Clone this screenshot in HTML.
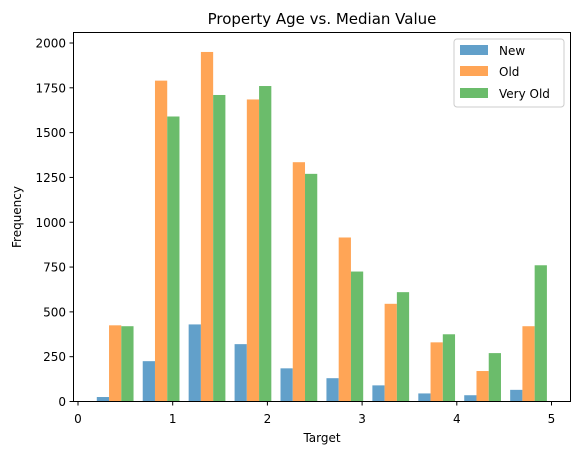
<!DOCTYPE html>
<html><head><meta charset="utf-8"><style>
body{margin:0;background:#fff;}
svg{display:block;font-family:"DejaVu Sans","Liberation Sans",sans-serif;}
</style></head><body>
<svg id="chart" width="580" height="455">
<rect x="0" y="0" width="580" height="455" fill="#fff"/>
<text x="322" y="24" font-size="15" text-anchor="middle" fill="#000">Property Age vs. Median Value</text>
<g id="bars"></g>
<g id="axes"></g>
<rect x="73.5" y="32.5" width="497" height="369" fill="none" stroke="#000" stroke-width="1"/>
<text x="322" y="442" font-size="12" text-anchor="middle">Target</text>
<text x="21" y="217" font-size="12" text-anchor="middle" transform="rotate(-90 21 217)">Frequency</text>
<g>
<rect x="454" y="39" width="110" height="68" rx="3" fill="#fff" fill-opacity="0.8" stroke="#ccc"/>
<rect x="460" y="45" width="28" height="10" fill="#62a0ca"/>
<text x="499" y="55" font-size="12">New</text>
<rect x="460" y="66" width="28" height="10" fill="#ffa556"/>
<text x="499" y="76" font-size="12">Old</text>
<rect x="460" y="88" width="28" height="10" fill="#6bbc6b"/>
<text x="499" y="98" font-size="12">Very Old</text>
</g>
</svg>
<script>
const binStart = 0.15;
const binWidth = 0.485;
const seriesNew = [25, 225, 430, 320, 185, 130, 90, 45, 35, 65];
const seriesOld = [425, 1790, 1950, 1685, 1335, 915, 545, 330, 170, 420];
const seriesVeryOld = [420, 1590, 1710, 1760, 1270, 725, 610, 375, 270, 760];
const xTicks = [0, 1, 2, 3, 4, 5];
const yTicks = [0, 250, 500, 750, 1000, 1250, 1500, 1750, 2000];

const NS = "http://www.w3.org/2000/svg";
function xs(v){return 78 + v*94.7;}
function ys(v){return 401.5 - v*(358.5/2000);}
const bars = document.getElementById('bars');
const axes = document.getElementById('axes');
const series = [[seriesNew,'#62a0ca','new'],[seriesOld,'#ffa556','old'],[seriesVeryOld,'#6bbc6b','very-old']];
const bw = binWidth*0.8/3;
series.forEach((s, si) => {
  s[0].forEach((val, i) => {
    const x0 = binStart + i*binWidth + 0.1*binWidth + si*bw;
    const r = document.createElementNS(NS,'rect');
    r.setAttribute('x', xs(x0));
    r.setAttribute('width', xs(x0+bw)-xs(x0));
    r.setAttribute('y', ys(val));
    r.setAttribute('height', ys(0)-ys(val));
    r.setAttribute('fill', s[1]);
    
    
    bars.appendChild(r);
  });
});
xTicks.forEach(t => {
  const l = document.createElementNS(NS,'line');
  l.setAttribute('x1', xs(t)); l.setAttribute('x2', xs(t));
  l.setAttribute('y1', 401.5); l.setAttribute('y2', 405.5);
  l.setAttribute('stroke', '#000');
  
  
  axes.appendChild(l);
  const tx = document.createElementNS(NS,'text');
  tx.setAttribute('x', xs(t)); tx.setAttribute('y', 423);
  tx.setAttribute('font-size', '12'); tx.setAttribute('text-anchor', 'middle');
  tx.textContent = t;
  
  
  axes.appendChild(tx);
});
yTicks.forEach(t => {
  const l = document.createElementNS(NS,'line');
  l.setAttribute('x1', 69.5); l.setAttribute('x2', 73.5);
  l.setAttribute('y1', ys(t)); l.setAttribute('y2', ys(t));
  l.setAttribute('stroke', '#000');
  
  
  axes.appendChild(l);
  const tx = document.createElementNS(NS,'text');
  tx.setAttribute('x', 66); tx.setAttribute('y', ys(t)+4.5);
  tx.setAttribute('font-size', '12'); tx.setAttribute('text-anchor', 'end');
  tx.textContent = t;
  
  
  axes.appendChild(tx);
});
</script>
</body></html>
